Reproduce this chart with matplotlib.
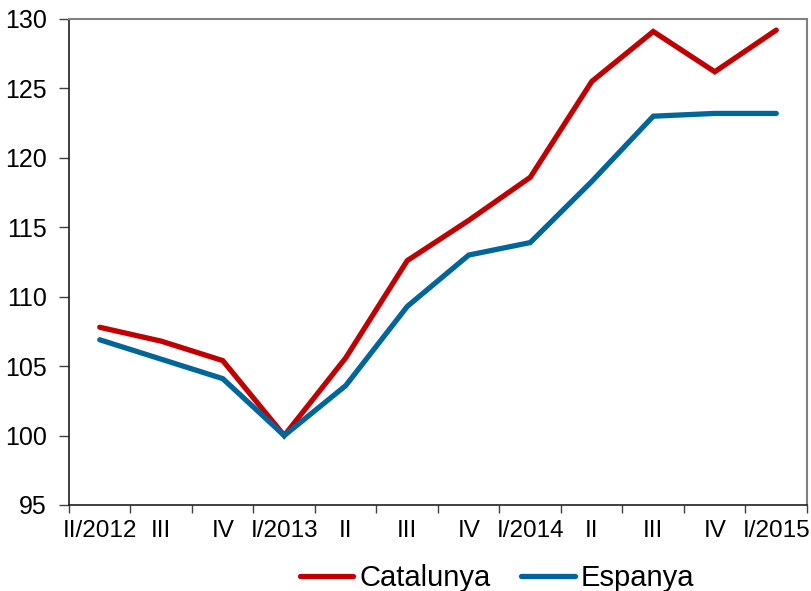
import matplotlib
matplotlib.use("Agg")
import matplotlib.pyplot as plt
import numpy as np

categories = ["II/2012", "III", "IV", "I/2013", "II", "III", "IV", "I/2014", "II", "III", "IV", "I/2015"]
catalunya = [107.8, 106.8, 105.4, 100.0, 105.6, 112.6, 115.5, 118.6, 125.5, 129.1, 126.2, 129.2]
espanya = [106.9, 105.5, 104.1, 100.0, 103.6, 109.3, 113.0, 113.9, 118.3, 123.0, 123.2, 123.2]

plt.rcParams['font.family'] = ['Liberation Sans', 'DejaVu Sans']

fig = plt.figure(figsize=(8.12, 5.91), dpi=100)
ax = fig.add_axes([69/812, 1-505/591, (807-69)/812, (505-19)/591])

x = np.arange(len(categories))
ax.plot(x, catalunya, color="#C00000", lw=3.8, label="Catalunya", solid_capstyle="round", solid_joinstyle="miter")
ax.plot(x, espanya, color="#006699", lw=3.8, label="Espanya", solid_capstyle="round", solid_joinstyle="miter")

ax.set_xlim(-0.5, len(categories) - 0.5)
ax.set_ylim(95, 130)
ax.set_yticks(np.arange(95, 131, 5))

ax.set_xticks(np.arange(-0.5, len(categories), 1.0))
ax.set_xticklabels([])
ax.set_xticks(x, minor=True)
ax.set_xticklabels(categories, minor=True)
ax.tick_params(axis='x', which='major', direction='out', length=6, width=1, color='#404040')
ax.tick_params(axis='x', which='minor', length=0, pad=11, labelsize=17.5)
ax.tick_params(axis='y', direction='out', length=7, width=1, pad=9, labelsize=18, color='#404040')

for s in ['left', 'bottom']:
    ax.spines[s].set_color('#202020')
    ax.spines[s].set_linewidth(1.2)
for s in ['top', 'right']:
    ax.spines[s].set_color('#808080')
    ax.spines[s].set_linewidth(1.5)

leg = fig.legend(loc='center', bbox_to_anchor=(497/812, 1-578/591), ncol=2, frameon=False,
                 fontsize=21, handlelength=1.85, handletextpad=0.2, columnspacing=1.05)

fig.savefig("out.png", dpi=100)
